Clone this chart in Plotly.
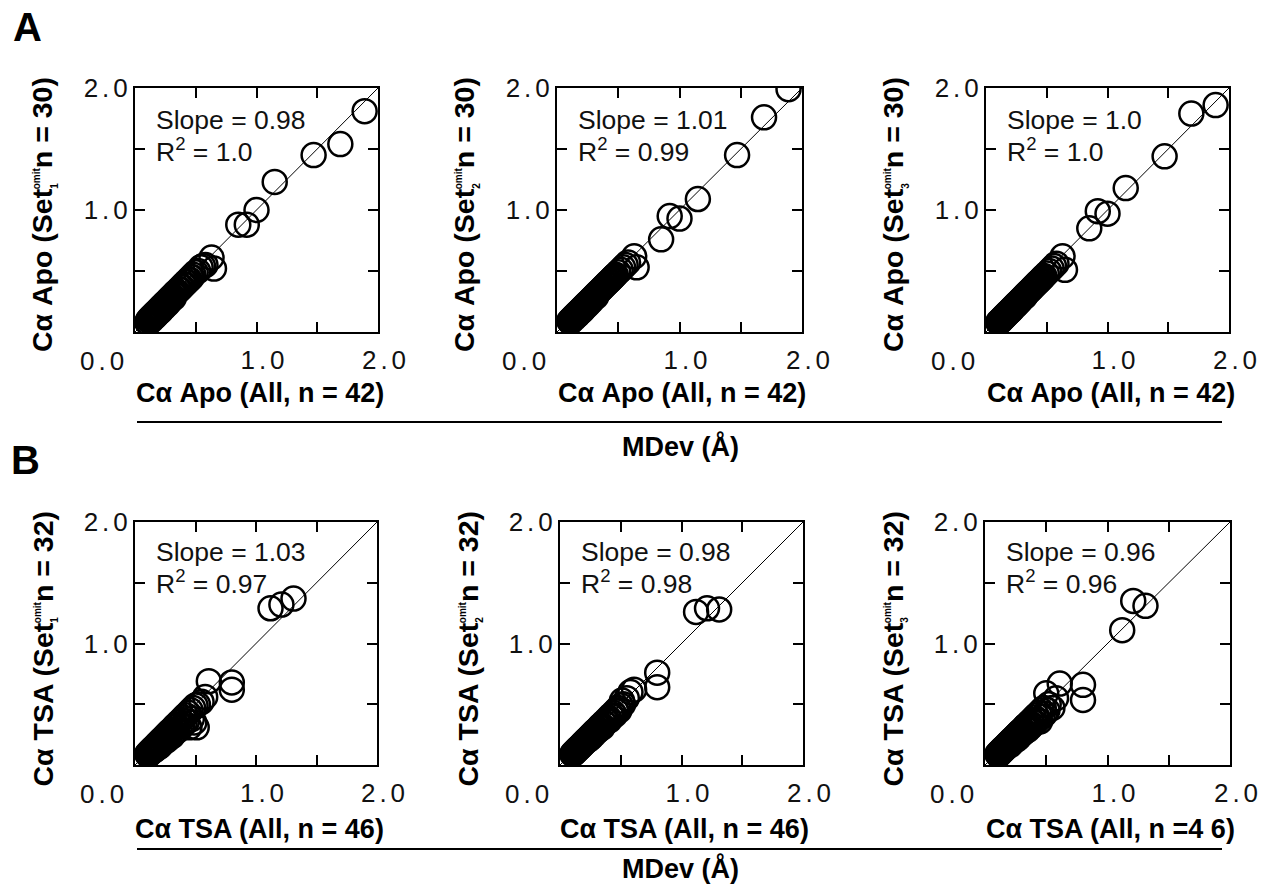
import plotly.graph_objects as go

W, H = 1262, 884
FONT = "Arial, Liberation Sans, sans-serif"

# ---- Cα MDev (Å): full ensemble (x) vs. set-omitted ensembles (y) ----
# Apo: the x values (all 42 structures) are shared by the three panels
apo_all = [0.10, 0.11, 0.11, 0.12, 0.12, 0.13, 0.13, 0.14, 0.14, 0.15,
           0.15, 0.16, 0.16, 0.17, 0.17, 0.18, 0.18, 0.19, 0.19, 0.20,
           0.20, 0.21, 0.21, 0.22, 0.22, 0.23, 0.24, 0.24, 0.25, 0.26,
           0.26, 0.27, 0.28, 0.28, 0.29, 0.30, 0.31, 0.32, 0.32, 0.33,
           0.34, 0.35, 0.36, 0.37, 0.38, 0.39, 0.40, 0.41, 0.42, 0.43,
           0.44, 0.45, 0.46, 0.47, 0.48, 0.50, 0.52, 0.54, 0.56,
           0.58, 0.63, 0.65, 0.85, 0.92, 1.00, 1.15, 1.47, 1.69, 1.89]
apo_set1 = [0.08, 0.10, 0.07, 0.11, 0.09, 0.12, 0.10, 0.13, 0.10, 0.14,
            0.12, 0.15, 0.12, 0.16, 0.13, 0.17, 0.15, 0.18, 0.15, 0.19,
            0.16, 0.20, 0.17, 0.21, 0.18, 0.22, 0.23, 0.20, 0.24, 0.25,
            0.22, 0.26, 0.27, 0.24, 0.28, 0.29, 0.29, 0.31, 0.28, 0.32,
            0.33, 0.33, 0.35, 0.35, 0.37, 0.37, 0.39, 0.39, 0.41, 0.41,
            0.43, 0.43, 0.45, 0.45, 0.47, 0.49, 0.50, 0.53, 0.54,
            0.55, 0.61, 0.52, 0.88, 0.88, 1.00, 1.23, 1.45, 1.54, 1.81]
apo_set2 = [0.09, 0.10, 0.08, 0.11, 0.10, 0.12, 0.11, 0.13, 0.11, 0.14,
            0.13, 0.15, 0.13, 0.16, 0.14, 0.17, 0.15, 0.18, 0.16, 0.19,
            0.17, 0.20, 0.18, 0.21, 0.19, 0.22, 0.23, 0.21, 0.24, 0.25,
            0.23, 0.26, 0.27, 0.25, 0.28, 0.29, 0.30, 0.31, 0.29, 0.32,
            0.33, 0.34, 0.35, 0.36, 0.37, 0.38, 0.39, 0.40, 0.41, 0.42,
            0.43, 0.44, 0.45, 0.46, 0.47, 0.49, 0.51, 0.53, 0.55,
            0.57, 0.62, 0.53, 0.76, 0.95, 0.93, 1.09, 1.45, 1.76, 1.99]
apo_set3 = [0.08, 0.09, 0.08, 0.10, 0.09, 0.11, 0.10, 0.12, 0.11, 0.13,
            0.12, 0.14, 0.13, 0.15, 0.14, 0.16, 0.15, 0.17, 0.16, 0.18,
            0.17, 0.19, 0.18, 0.20, 0.19, 0.21, 0.22, 0.21, 0.23, 0.24,
            0.23, 0.25, 0.26, 0.25, 0.27, 0.28, 0.29, 0.30, 0.29, 0.31,
            0.32, 0.33, 0.34, 0.35, 0.36, 0.37, 0.38, 0.39, 0.40, 0.41,
            0.42, 0.43, 0.44, 0.45, 0.46, 0.48, 0.50, 0.52, 0.54,
            0.56, 0.62, 0.51, 0.85, 0.99, 0.97, 1.18, 1.44, 1.79, 1.86]

# TSA: the x values (all 46 structures) are shared by the three panels
tsa_all = [0.10, 0.11, 0.11, 0.12, 0.12, 0.13, 0.13, 0.14, 0.14, 0.15,
           0.15, 0.16, 0.16, 0.17, 0.17, 0.18, 0.18, 0.19, 0.19, 0.20,
           0.20, 0.21, 0.21, 0.22, 0.22, 0.23, 0.24, 0.24, 0.25, 0.26,
           0.26, 0.27, 0.28, 0.28, 0.29, 0.30, 0.31, 0.32, 0.32, 0.33,
           0.34, 0.35, 0.36, 0.37, 0.38, 0.39, 0.40, 0.41, 0.42, 0.43,
           0.44, 0.45, 0.46, 0.47, 0.48, 0.49, 0.50, 0.51, 0.52,
           0.55, 0.58, 0.61, 0.80, 0.80, 1.12, 1.21, 1.31]
tsa_set1 = [0.09, 0.10, 0.08, 0.11, 0.09, 0.12, 0.10, 0.13, 0.11, 0.14,
            0.12, 0.15, 0.12, 0.16, 0.13, 0.17, 0.14, 0.18, 0.15, 0.19,
            0.15, 0.20, 0.16, 0.21, 0.17, 0.22, 0.23, 0.19, 0.24, 0.25,
            0.20, 0.26, 0.27, 0.22, 0.28, 0.29, 0.24, 0.31, 0.26, 0.32,
            0.33, 0.28, 0.35, 0.30, 0.37, 0.32, 0.39, 0.34, 0.41, 0.36,
            0.43, 0.31, 0.45, 0.38, 0.47, 0.35, 0.49, 0.31, 0.50,
            0.52, 0.56, 0.69, 0.68, 0.62, 1.29, 1.32, 1.37]
tsa_set2 = [0.09, 0.10, 0.09, 0.11, 0.10, 0.12, 0.11, 0.13, 0.12, 0.14,
            0.13, 0.15, 0.14, 0.16, 0.15, 0.17, 0.16, 0.18, 0.17, 0.19,
            0.18, 0.20, 0.19, 0.21, 0.20, 0.22, 0.23, 0.21, 0.24, 0.25,
            0.23, 0.26, 0.27, 0.25, 0.28, 0.29, 0.28, 0.31, 0.29, 0.32,
            0.33, 0.31, 0.35, 0.34, 0.37, 0.36, 0.39, 0.37, 0.41, 0.40,
            0.43, 0.41, 0.45, 0.44, 0.47, 0.45, 0.49, 0.53, 0.50,
            0.55, 0.60, 0.62, 0.76, 0.64, 1.26, 1.29, 1.28]
tsa_set3 = [0.09, 0.10, 0.08, 0.11, 0.09, 0.12, 0.10, 0.13, 0.11, 0.14,
            0.12, 0.15, 0.13, 0.16, 0.14, 0.17, 0.15, 0.18, 0.16, 0.19,
            0.16, 0.20, 0.17, 0.21, 0.18, 0.22, 0.23, 0.20, 0.24, 0.25,
            0.21, 0.26, 0.27, 0.23, 0.28, 0.29, 0.26, 0.31, 0.27, 0.32,
            0.33, 0.29, 0.35, 0.31, 0.37, 0.33, 0.39, 0.35, 0.41, 0.37,
            0.43, 0.36, 0.45, 0.40, 0.47, 0.42, 0.59, 0.45, 0.50,
            0.47, 0.55, 0.67, 0.66, 0.535, 1.11, 1.35, 1.31]

slopes = ["0.98", "1.01", "1.0", "1.03", "0.98", "0.96"]
r2s = ["1.0", "0.99", "1.0", "0.97", "0.98", "0.96"]
set_ids = ["1", "2", "3", "1", "2", "3"]
x_titles = ["Cα Apo (All, n = 42)", "Cα Apo (All, n = 42)", "Cα Apo (All, n = 42)",
            "Cα TSA (All, n = 46)", "Cα TSA (All, n = 46)", "Cα TSA (All, n =4 6)"]
y_heads = ["Cα Apo (Set", "Cα Apo (Set", "Cα Apo (Set",
           "Cα TSA (Set", "Cα TSA (Set", "Cα TSA (Set"]
y_tails = ["n = 30)", "n = 30)", "n = 30)", "n = 32)", "n = 32)", "n = 32)"]
common_label = "MDev (Å)"
tick_vals = [0.5, 1.0, 1.5, 2.0]
tick_labels = ["", "1.0", "", "2.0"]
origin_label = "0.0"

xs = [apo_all, apo_all, apo_all, tsa_all, tsa_all, tsa_all]
ys = [apo_set1, apo_set2, apo_set3, tsa_set1, tsa_set2, tsa_set3]

# plot boxes in pixels: (left, right, top, bottom)
boxes = [(135, 378, 88, 332), (557, 802, 88, 332), (986, 1229, 88, 332),
         (135, 377, 522, 765), (560, 803, 522, 765), (985, 1230, 522, 765)]


def px(x):
    return x / W


def py(y):
    return 1 - y / H


def spaced(label):
    # widen the numeric labels a little (tracking between characters)
    if not label:
        return label
    return "<span style='letter-spacing:4px'>" + label[:-1] + "</span>" + label[-1]


fig = go.Figure()
annotations = []
shapes = []
layout = {}
tick_font = dict(family=FONT, size=26, color="#111")

for i in range(6):
    l, r, t, b = boxes[i]
    n = "" if i == 0 else str(i + 1)
    xa, ya = "x" + n, "y" + n

    # identity line
    fig.add_trace(go.Scatter(x=[0, 2], y=[0, 2], mode="lines",
                             line=dict(color="black", width=1),
                             xaxis=xa, yaxis=ya, hoverinfo="skip"))
    fig.add_trace(go.Scatter(x=xs[i], y=ys[i], mode="markers",
                             marker=dict(symbol="circle-open", size=24, color="black",
                                         line=dict(width=2.5, color="black")),
                             xaxis=xa, yaxis=ya))

    axis_common = dict(range=[0, 2], tickvals=tick_vals,
                       ticktext=[spaced(s) for s in tick_labels],
                       ticks="inside", ticklen=10, tickwidth=2, tickcolor="black",
                       showline=True, linewidth=2, linecolor="black", mirror="ticks",
                       showgrid=False, zeroline=False, automargin=False,
                       tickfont=tick_font)
    layout["xaxis" + n] = dict(axis_common, domain=[px(l), px(r)], anchor=ya,
                               ticklabelshift=6, ticklabelstandoff=4)
    layout["yaxis" + n] = dict(axis_common, domain=[py(b), py(t)], anchor=xa,
                               ticklabelstandoff=0)

    # shared origin label at the lower-left corner
    annotations.append(dict(text=spaced(origin_label), x=px(l - 9), y=py(b + 29),
                            xref="paper", yref="paper", xanchor="right", yanchor="middle",
                            showarrow=False, font=tick_font))
    # fit statistics
    dy = 32 if i < 3 else 30
    stat_font = dict(family=FONT, size=26.5, color="#111")
    annotations.append(dict(text="Slope = " + slopes[i], x=px(l + 19), y=py(t + dy),
                            xref="paper", yref="paper", xanchor="left", yanchor="middle",
                            showarrow=False, font=stat_font))
    annotations.append(dict(text="R<sup>2</sup> = " + r2s[i], x=px(l + 19), y=py(t + dy + 30),
                            xref="paper", yref="paper", xanchor="left", yanchor="middle",
                            showarrow=False, font=stat_font))
    # x-axis title
    annotations.append(dict(text="<b>" + x_titles[i] + "</b>", x=px((l + r) / 2 + 3),
                            y=py(b + (61 if i < 3 else 64)), xref="paper", yref="paper",
                            xanchor="center", yanchor="middle", showarrow=False,
                            font=dict(family=FONT, size=27, color="black")))
    # y-axis title with stacked sub/superscript
    ytxt = ("<b>" + y_heads[i]
            + "<sub><span style='font-size:10px;letter-spacing:-6px'>" + set_ids[i] + "</span></sub>"
            + "<sup><span style='font-size:10px'>omit</span></sup>"
            + y_tails[i] + "</b>")
    annotations.append(dict(text=ytxt, x=px(l - 93), y=py((t + b) / 2 + 5),
                            xref="paper", yref="paper", xanchor="center", yanchor="middle",
                            textangle=-90, showarrow=False,
                            font=dict(family=FONT, size=28.5, color="black")))

# shared axis captions and rules
for ypx_line, ypx_text in [(422, 446), (849, 868)]:
    shapes.append(dict(type="line", xref="paper", yref="paper",
                       x0=px(137), x1=px(1222), y0=py(ypx_line), y1=py(ypx_line),
                       line=dict(color="black", width=2)))
    annotations.append(dict(text="<b>" + common_label + "</b>", x=px(680), y=py(ypx_text),
                            xref="paper", yref="paper", xanchor="center", yanchor="middle",
                            showarrow=False, font=dict(family=FONT, size=27, color="black")))

# panel letters
for letter, (lx, ly) in [("A", (27, 27)), ("B", (25, 460))]:
    annotations.append(dict(text="<b>" + letter + "</b>", x=px(lx), y=py(ly),
                            xref="paper", yref="paper", xanchor="center", yanchor="middle",
                            showarrow=False, font=dict(family=FONT, size=40, color="black")))

fig.update_layout(width=W, height=H, autosize=False,
                  margin=dict(l=0, r=0, t=0, b=0, pad=0),
                  paper_bgcolor="white", plot_bgcolor="white",
                  showlegend=False, font=dict(family=FONT, color="black"),
                  annotations=annotations, shapes=shapes, **layout)

fig.write_html("out.html")
